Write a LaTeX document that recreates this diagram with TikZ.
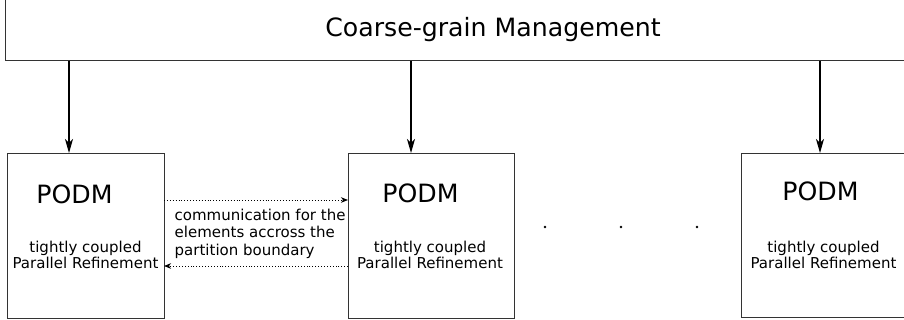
\documentclass[tikz,border=0pt]{standalone}
\usepackage{fontspec}
\setmainfont{DejaVu Sans}
\usetikzlibrary{arrows.meta}
\begin{document}
\begin{tikzpicture}[x=1pt,y=-1pt,
  box/.style={draw=black!80, line width=0.9pt, inner sep=0pt},
  big/.style={font=\fontsize{25.2}{29}\selectfont, inner sep=0pt},
  small/.style={font=\fontsize{15}{12}\selectfont, align=center, inner sep=0pt},
  comm/.style={font=\fontsize{15}{17.5}\selectfont, align=left, inner sep=0pt},
  arr/.style={line width=1.2pt, -{Stealth[length=14pt,width=8pt,inset=4pt]}},
  darr/.style={dotted, line width=0.9pt, -{Stealth[length=7pt,width=5.5pt,inset=2pt]}}]
\useasboundingbox (0,0) rectangle (904,320);
\clip (0,0) rectangle (904,320);
% top box
\node[box, minimum width=910pt, minimum height=72pt, anchor=south west] (top) at (5,61) {};
\node[font=\fontsize{25.2}{29}\selectfont, anchor=base] (title) at (493,37) {Coarse-grain Management};
% lower boxes
\node[box, minimum width=157pt, minimum height=165pt, anchor=north west] (b1) at (7,153) {};
\node[box, minimum width=166pt, minimum height=165pt, anchor=north west] (b2) at (348,153) {};
\node[box, minimum width=166pt, minimum height=164pt, anchor=north west] (b3) at (741,153) {};
% box texts
\node[big, anchor=base] (p1) at (74.5,204) {PODM};
\node[small, anchor=base] (t1) at (85.5,268) {tightly coupled\\Parallel Refinement};
\node[big, anchor=base] (p2) at (420.5,203) {PODM};
\node[small, anchor=base] (t2) at (430,268) {tightly coupled\\Parallel Refinement};
\node[big, anchor=base] (p3) at (820.5,201) {PODM};
\node[small, anchor=base] (t3) at (823.5,268) {tightly coupled\\Parallel Refinement};
% arrows from top
\coordinate (a1) at (69,153);
\coordinate (a2) at (411,153);
\coordinate (a3) at (820,153);
\draw[arr] (top.south -| a1) -- (a1);
\draw[arr] (top.south -| a2) -- (a2);
\draw[arr] (top.south -| a3) -- (a3);
% communication arrows
\coordinate (c1) at (164,200);
\coordinate (c2) at (164,266);
\draw[darr] (c1) -- (c1 -| b2.west);
\draw[darr] (c2 -| b2.west) -- (c2);
\node[comm, anchor=base west] (comm) at (174.5,255) {communication for the\\elements accross the\\partition boundary};
% dots
\fill (545,227) circle (1.3);
\fill (621,227) circle (1.3);
\fill (697,227) circle (1.3);
\end{tikzpicture}
\end{document}
